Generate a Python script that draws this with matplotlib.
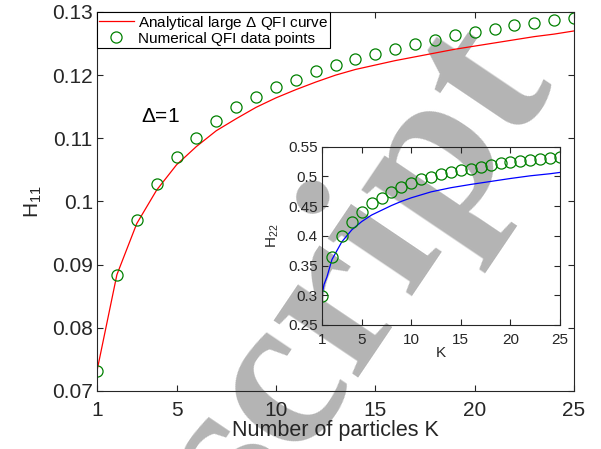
import numpy as np
import matplotlib
matplotlib.use("Agg")
import matplotlib.pyplot as plt

plt.rcParams['font.family'] = ['Liberation Sans', 'DejaVu Sans']
plt.rcParams['mathtext.default'] = 'regular'

# main panel: H11 vs K
K = np.arange(1, 26)
h11_numeric = [0.0732, 0.0884, 0.0971, 0.1028, 0.1070, 0.1101, 0.1127, 0.1149,
               0.1166, 0.1181, 0.1193, 0.1206, 0.1216, 0.1226, 0.1234, 0.1242,
               0.1250, 0.1255, 0.1263, 0.1268, 0.1273, 0.1279, 0.1282, 0.1287,
               0.1290]
h11_analytic = [0.0732, 0.0884, 0.0965, 0.1018, 0.1058, 0.1087, 0.1112, 0.1131,
                0.1149, 0.1164, 0.1177, 0.1189, 0.1200, 0.1209, 0.1216, 0.1223,
                0.1229, 0.1235, 0.1241, 0.1246, 0.1251, 0.1256, 0.1261, 0.1265,
                0.1270]

# inset: H22 vs K
h22_numeric = [0.2994, 0.3643, 0.3992, 0.4239, 0.4407, 0.4559, 0.4643, 0.4744,
               0.4823, 0.4895, 0.4952, 0.4985, 0.5041, 0.5080, 0.5109, 0.5131,
               0.5165, 0.5187, 0.5221, 0.5238, 0.5255, 0.5271, 0.5288, 0.5311,
               0.5333]
K_fine = [1, 1.2, 1.5, 2, 3, 4, 5, 6, 7, 8, 9, 10, 12, 14, 16, 18, 20, 22, 24, 25]
h22_analytic = [0.300, 0.318, 0.331, 0.360, 0.390, 0.410, 0.424, 0.435, 0.443,
                0.451, 0.458, 0.464, 0.474, 0.481, 0.4865, 0.4915, 0.4965,
                0.501, 0.5045, 0.5067]

x_ticks = [1, 5, 10, 15, 20, 25]
h11_ticks = [0.07, 0.08, 0.09, 0.1, 0.11, 0.12, 0.13]
h11_labels = ['0.07', '0.08', '0.09', '0.1', '0.11', '0.12', '0.13']
h22_ticks = [0.25, 0.3, 0.35, 0.4, 0.45, 0.5, 0.55]
h22_labels = ['0.25', '0.3', '0.35', '0.4', '0.45', '0.5', '0.55']

green = '#008000'
edge = '#262626'

fig = plt.figure(figsize=(6.01, 4.49), dpi=100)

# watermark behind everything
fig.text(0.415, -0.180, 'script', family='Liberation Serif', weight='bold',
         fontsize=160, color='#b4b4b4', rotation=56, rotation_mode='anchor',
         ha='left', va='baseline', zorder=-5)


def style_axes(ax, size, xpad):
    for s in ax.spines.values():
        s.set_color(edge)
        s.set_linewidth(0.8)
    ax.tick_params(direction='in', top=True, right=True, length=4,
                   width=0.8, color=edge, labelsize=size, labelcolor=edge,
                   pad=3)
    ax.tick_params(axis='x', pad=xpad)
    ax.set_facecolor('none')


ax = fig.add_axes([0.1614, 0.1292, 0.7937, 0.8441])
style_axes(ax, 15, 7)
ax.plot(K, h11_analytic, color='red', lw=0.9,
        label=r'Analytical large $\Delta$ QFI curve')
ax.plot(K, h11_numeric, 'o', mfc='none', mec=green, ms=8, mew=0.9,
        label='Numerical QFI data points')
ax.set_xlim(1, 25)
ax.set_ylim(0.07, 0.13)
ax.set_xticks(x_ticks)
ax.set_yticks(h11_ticks)
ax.set_yticklabels(h11_labels)
ax.set_xlabel('Number of particles K', fontsize=15.5, labelpad=0, color=edge)
ax.set_ylabel('H$_{11}$', fontsize=15, labelpad=6, color=edge)
ax.text(3.2, 0.1134, r'$\Delta$=1', fontsize=15, va='center')

leg = ax.legend(loc='upper left', bbox_to_anchor=(0, 1), borderaxespad=0,
                fontsize=11, handlelength=2.3, handletextpad=0.25,
                labelspacing=0.0, borderpad=0.12, fancybox=False,
                framealpha=1)
leg.get_frame().set_edgecolor('black')
leg.get_frame().set_linewidth(0.8)

ins = fig.add_axes([0.5358, 0.2762, 0.396, 0.3971])
style_axes(ins, 11, 6)
ins.plot(K_fine, h22_analytic, color='blue', lw=0.9)
ins.plot(K, h22_numeric, 'o', mfc='none', mec=green, ms=8, mew=0.9)
ins.set_xlim(1, 25)
ins.set_ylim(0.25, 0.55)
ins.set_xticks(x_ticks)
ins.set_yticks(h22_ticks)
ins.set_yticklabels(h22_labels)
ins.set_xlabel('K', fontsize=11, labelpad=-1, color=edge)
ins.set_ylabel('H$_{22}$', fontsize=11, labelpad=5, color=edge)

fig.savefig('out.png', dpi=100)
